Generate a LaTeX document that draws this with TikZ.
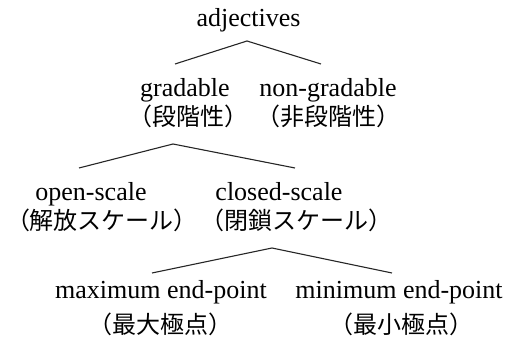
\documentclass[tikz,border=0pt]{standalone}
\usepackage{fontspec}
\setmainfont{Liberation Serif}
\newfontfamily\cjk{Noto Sans CJK JP}
\begin{document}
\begin{tikzpicture}[x=0.5pt,y=-0.5pt,
  lat/.style={anchor=base,inner sep=0pt,font=\fontsize{13pt}{15pt}\selectfont},
  jp/.style={anchor=base,inner sep=0pt,font=\cjk\fontsize{12pt}{14pt}\selectfont},
  branch/.style={line width=0.55pt,color=black!85}]
\useasboundingbox (0,0) rectangle (511,341);
% row 1
\node[lat] (adj) at (248.5,27) {adjectives};
% row 2
\node[lat] (grad) at (185,97) {gradable};
\node[lat] (nongrad) at (328,97) {non-gradable};
\node[jp] (gradj) at (189,126) {（段階性）};
\node[jp] (nongradj) at (329,126) {（非段階性）};
% row 3
\node[lat] (open) at (91,201) {open-scale};
\node[lat] (closed) at (279,201) {closed-scale};
\node[jp] (openj) at (102,230) {（解放スケール）};
\node[jp] (closedj) at (297,230) {（閉鎖スケール）};
% row 4
\node[lat] (max) at (161,299) {maximum end-point};
\node[lat] (min) at (399,299) {minimum end-point};
\node[jp] (maxj) at (161,334) {（最大極点）};
\node[jp] (minj) at (402,334) {（最小極点）};
% branches
\coordinate (a1) at (247,41);
\coordinate (l1) at (175,64);
\coordinate (r1) at (321,64);
\coordinate (a2) at (173,144);
\coordinate (l2) at (79,168);
\coordinate (r2) at (295,168);
\coordinate (a3) at (272,248);
\coordinate (l3) at (152,273);
\coordinate (r3) at (392,273);
\draw[branch] (l1) -- (a1) -- (r1);
\draw[branch] (l2) -- (a2) -- (r2);
\draw[branch] (l3) -- (a3) -- (r3);
\end{tikzpicture}
\end{document}
